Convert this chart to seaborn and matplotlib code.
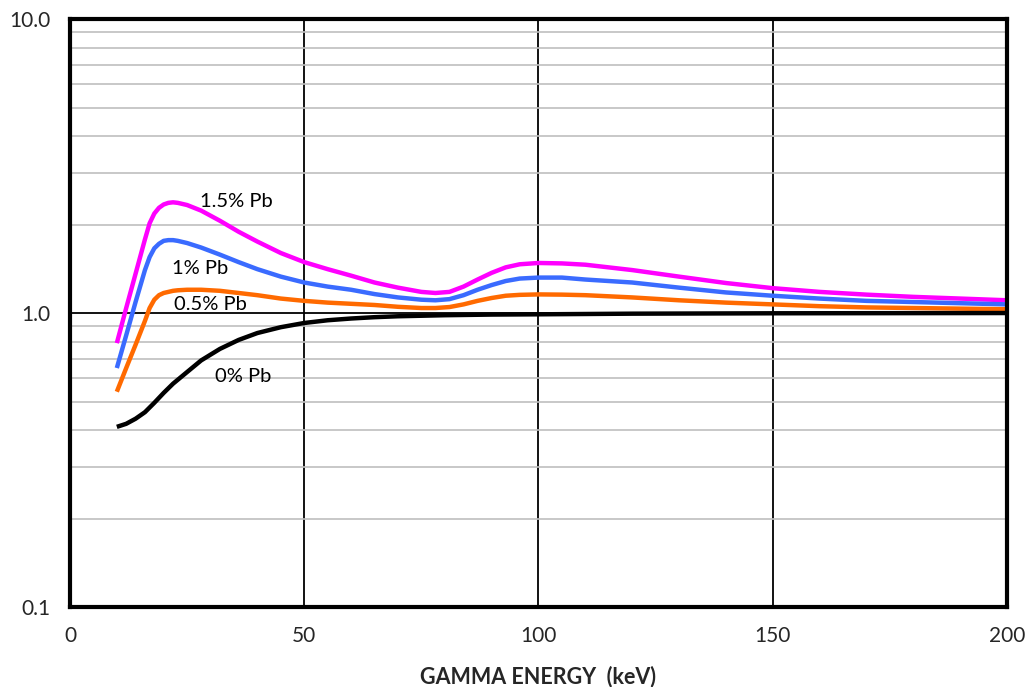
import numpy as np
import pandas as pd
import matplotlib
matplotlib.use("Agg")
import matplotlib.pyplot as plt
import seaborn as sns
from matplotlib.ticker import FixedLocator, LogLocator, NullFormatter

# Werte (Energie in keV)
energy = [10, 12, 14, 16, 17, 18, 19, 20, 21, 22, 23, 25, 28, 32, 36, 40, 45, 50, 55, 60, 65,
          70, 75, 78, 81, 84, 87, 90, 93, 96, 100, 105, 110, 120, 130, 140, 150, 160, 170, 180,
          190, 200]
pb15 = [0.79, 1.04, 1.36, 1.78, 2.02, 2.18, 2.28, 2.34, 2.37, 2.38, 2.37, 2.33, 2.23, 2.06, 1.89,
        1.75, 1.60, 1.49, 1.41, 1.34, 1.27, 1.22, 1.18, 1.17, 1.18, 1.23, 1.30, 1.37, 1.43, 1.465,
        1.48, 1.475, 1.46, 1.40, 1.33, 1.265, 1.215, 1.18, 1.155, 1.135, 1.12, 1.105]
pb10 = [0.65, 0.84, 1.09, 1.40, 1.55, 1.66, 1.72, 1.76, 1.77, 1.77, 1.76, 1.73, 1.67, 1.58, 1.49,
        1.41, 1.33, 1.27, 1.23, 1.20, 1.16, 1.13, 1.11, 1.105, 1.115, 1.15, 1.20, 1.245, 1.285, 1.31,
        1.32, 1.32, 1.30, 1.27, 1.22, 1.175, 1.145, 1.12, 1.10, 1.09, 1.08, 1.07]
pb05 = [0.54, 0.65, 0.78, 0.94, 1.04, 1.11, 1.15, 1.17, 1.18, 1.19, 1.195, 1.20, 1.20, 1.19, 1.17,
        1.15, 1.12, 1.10, 1.085, 1.075, 1.065, 1.05, 1.04, 1.04, 1.048, 1.07, 1.10, 1.125, 1.145,
        1.153, 1.157, 1.155, 1.15, 1.13, 1.105, 1.085, 1.07, 1.055, 1.045, 1.04, 1.035, 1.03]
energy_pb0 = [10, 12, 14, 16, 18, 20, 22, 25, 28, 32, 36, 40, 45, 50, 55, 60, 65, 70, 80, 90,
              100, 120, 150, 200]
pb0 = [0.41, 0.42, 0.437, 0.46, 0.495, 0.535, 0.575, 0.63, 0.69, 0.755, 0.81, 0.855, 0.895, 0.925,
       0.945, 0.958, 0.968, 0.975, 0.983, 0.988, 0.99, 0.995, 0.998, 1.0]

series_names = ["1.5% Pb", "1% Pb", "0.5% Pb", "0% Pb"]
series_colors = ["#FF00FF", "#3A6BFF", "#FF6A00", "#000000"]
label_x = [35.6, 27.8, 29.9, 36.9]
label_y = [2.39, 1.42, 1.065, 0.61]

# Langes DataFrame bauen
frames = []
for name, xs, ys in [("1.5% Pb", energy, pb15), ("1% Pb", energy, pb10),
                     ("0.5% Pb", energy, pb05), ("0% Pb", energy_pb0, pb0)]:
    frames.append(pd.DataFrame({"energy": xs, "value": ys, "series": name}))
df = pd.concat(frames)

sns.set_theme(style="white")
plt.rcParams["font.family"] = ["Lato", "DejaVu Sans"]

fig = plt.figure(figsize=(10.26, 6.87), dpi=100)
ax = fig.add_axes([0.0682, 0.1164, 0.9133, 0.8559])

ax.set_yscale("log")
ax.set_xlim(0, 200)
ax.set_ylim(0.1, 10)

# Gitter: graue Nebenlinien, schwarze Hauptlinien
ax.yaxis.set_minor_locator(LogLocator(base=10, subs=np.arange(2, 10)))
ax.yaxis.set_minor_formatter(NullFormatter())
ax.grid(which="minor", axis="y", color="#BFBFBF", linewidth=1.2)
ax.grid(which="major", axis="both", color="black", linewidth=1.3)
ax.set_axisbelow(True)

sns.lineplot(data=df, x="energy", y="value", hue="series", hue_order=series_names,
             palette=series_colors, linewidth=3.2, legend=False, ax=ax, sort=False,
             estimator=None)
for line in ax.get_lines():
    line.set_solid_joinstyle("round")
    line.set_solid_capstyle("butt")

for name, lx, ly in zip(series_names, label_x, label_y):
    ax.text(lx, ly, name, fontsize=14.5, ha="center", va="center", color="black")

ax.xaxis.set_major_locator(FixedLocator([0, 50, 100, 150, 200]))
ax.yaxis.set_major_locator(FixedLocator([0.1, 1.0, 10.0]))
ax.set_yticklabels(["0.1", "1.0", "10.0"])
ax.tick_params(axis="both", which="major", labelsize=15, length=0)
ax.tick_params(axis="x", which="major", pad=14)
ax.tick_params(axis="y", which="major", pad=14)
ax.tick_params(axis="y", which="minor", length=0)

for sp in ax.spines.values():
    sp.set_color("black")
    sp.set_linewidth(3)

ax.set_xlabel("GAMMA ENERGY  (keV)", fontsize=15.5, fontweight="bold", labelpad=14)
ax.set_ylabel("")

fig.savefig("out.png", dpi=100)
